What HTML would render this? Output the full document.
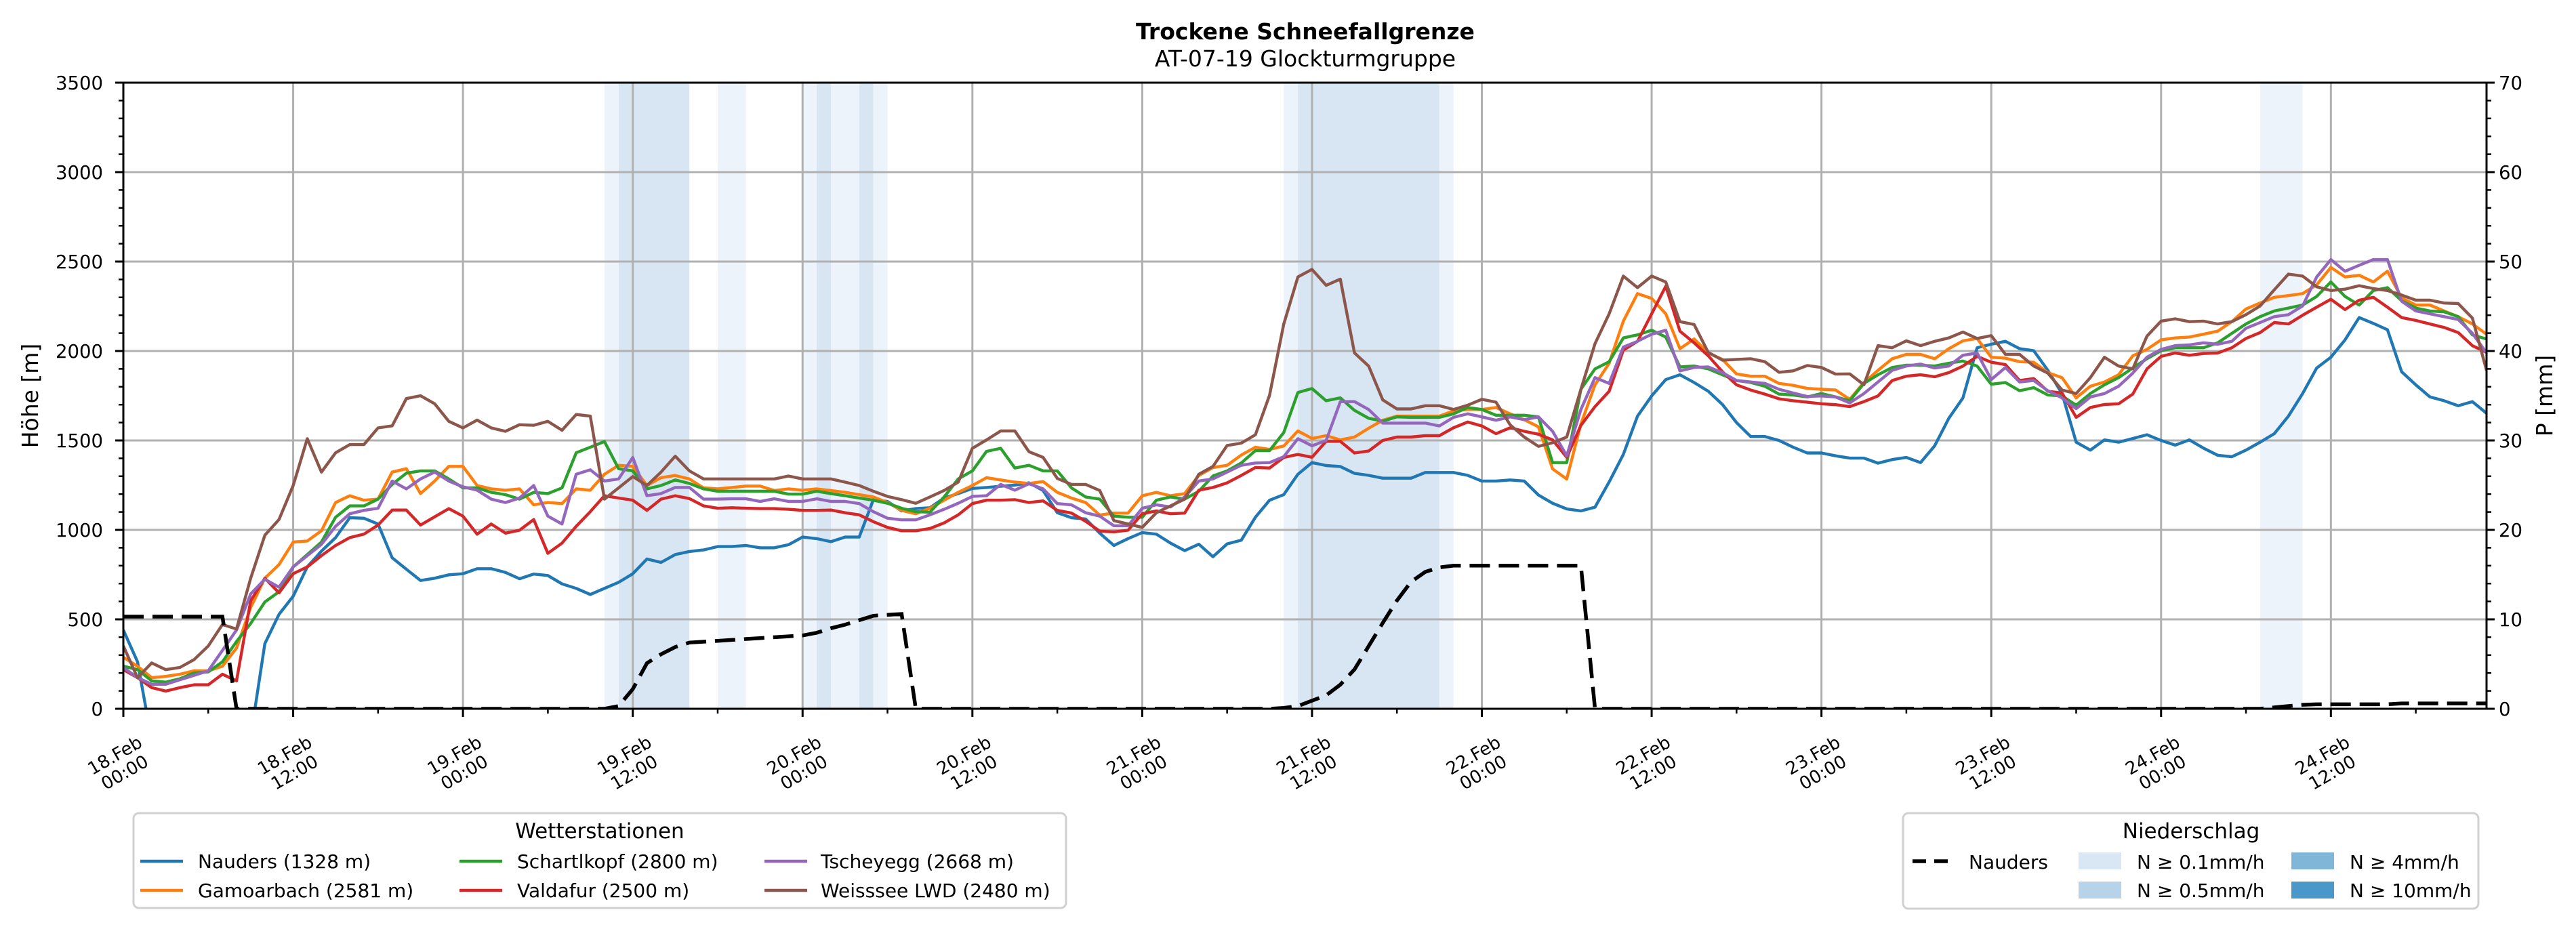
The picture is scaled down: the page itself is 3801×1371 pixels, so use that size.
<!DOCTYPE html>
<html><head><meta charset="utf-8"><style>
html,body{margin:0;padding:0;background:#fff;}
svg{display:block;font-family:"DejaVu Sans","Liberation Sans",sans-serif;}
</style></head><body>
<svg id="chart" width="3801" height="1371" viewBox="0 0 3801 1371" xmlns="http://www.w3.org/2000/svg">
<defs><clipPath id="plotclip"><rect x="182" y="122" width="3487" height="924"/></clipPath></defs>
<text x="1926" y="58" font-size="33" font-weight="bold" text-anchor="middle">Trockene Schneefallgrenze</text>
<text x="1926" y="98" font-size="33" text-anchor="middle">AT-07-19 Glockturmgruppe</text>
<g id="bands" clip-path="url(#plotclip)"></g>
<g id="grid"></g>
<g id="series" clip-path="url(#plotclip)"></g>
<g id="axes"></g>
<text transform="translate(56,584) rotate(-90)" font-size="33" text-anchor="middle">Höhe [m]</text>
<text transform="translate(3766,584) rotate(-90)" font-size="33" text-anchor="middle">P [mm]</text>
<g>
<rect x="197" y="1200" width="1376" height="140" rx="8" fill="#fff" stroke="#d0d0d0" stroke-width="3"/>
<text x="885" y="1237" font-size="31" text-anchor="middle">Wetterstationen</text>
<g font-size="28">
<line x1="207" y1="1271" x2="270" y2="1271" stroke="#1f77b4" stroke-width="4.4"/><text x="292" y="1281">Nauders (1328 m)</text>
<line x1="207" y1="1314" x2="270" y2="1314" stroke="#ff7f0e" stroke-width="4.4"/><text x="292" y="1324">Gamoarbach (2581 m)</text>
<line x1="678" y1="1271" x2="741" y2="1271" stroke="#2ca02c" stroke-width="4.4"/><text x="763" y="1281">Schartlkopf (2800 m)</text>
<line x1="678" y1="1314" x2="741" y2="1314" stroke="#d62728" stroke-width="4.4"/><text x="763" y="1324">Valdafur (2500 m)</text>
<line x1="1128" y1="1271" x2="1191" y2="1271" stroke="#9467bd" stroke-width="4.4"/><text x="1211" y="1281">Tscheyegg (2668 m)</text>
<line x1="1128" y1="1314" x2="1191" y2="1314" stroke="#8c564b" stroke-width="4.4"/><text x="1211" y="1324">Weisssee LWD (2480 m)</text>
</g></g>
<g>
<rect x="2808" y="1200" width="849" height="141" rx="8" fill="#fff" stroke="#d0d0d0" stroke-width="3"/>
<text x="3233" y="1237" font-size="31" text-anchor="middle">Niederschlag</text>
<g font-size="28">
<line x1="2822" y1="1271" x2="2879" y2="1271" stroke="#000" stroke-width="5.5" stroke-dasharray="20,12"/><text x="2905" y="1282">Nauders</text>
<rect x="3067" y="1258" width="63" height="25" fill="#d9e7f4"/><text x="3153" y="1282">N ≥ 0.1mm/h</text>
<rect x="3067" y="1301" width="63" height="25" fill="#b7d3ea"/><text x="3153" y="1324">N ≥ 0.5mm/h</text>
<rect x="3381" y="1258" width="63" height="25" fill="#80b7d9"/><text x="3467" y="1282">N ≥ 4mm/h</text>
<rect x="3381" y="1301" width="63" height="25" fill="#4a97c9"/><text x="3467" y="1324">N ≥ 10mm/h</text>
</g></g>
</svg>
<script>
const nauders=[440,263,-175,-175,-175,-175,-175,-175,-175,-156,364,528,629,793,881,957,1068,1065,1033,844,780,717,730,749,755,783,783,762,727,753,745,698,673,639,673,707,755,837,818,862,879,888,907,
907,913,900,900,917,960,951,934,960,960,1169,1159,1106,1119,1124,1178,1203,1232,1237,1244,1250,1263,1220,1096,1068,1061,982,913,951,985,976,926,884,920,850,922,942,1071,1166,1197,1311,
1376,1360,1354,1316,1305,1289,1289,1289,1321,1321,1321,1305,1273,1273,1279,1273,1195,1149,1117,1106,1127,1268,1422,1636,1749,1840,1867,1824,1775,1701,1600,1522,1522,1500,1462,1430,1430,1414,1401,1401,1373,1393,
1405,1376,1470,1624,1738,2018,2038,2054,2013,2002,1892,1762,1490,1446,1503,1490,1511,1532,1500,1474,1503,1457,1417,1409,1446,1490,1538,1636,1762,1905,1965,2062,2187,2154,2119,1884,1811,1743,1722,1694,1717,1652];
const gamoarbach=[288,238,174,181,193,212,212,238,339,566,730,806,932,938,995,1153,1191,1166,1172,1323,1342,1203,1273,1355,1355,1248,1229,1222,1229,1140,1153,1147,1229,1222,1311,1361,1355,1248,1292,1304,1285,1235,1229,
1237,1245,1245,1220,1229,1222,1229,1220,1210,1197,1184,1153,1109,1090,1121,1166,1210,1248,1292,1279,1267,1260,1270,1210,1178,1153,1083,1094,1094,1191,1210,1191,1203,1304,1349,1361,1418,1462,1450,1469,1553,
1511,1527,1503,1519,1568,1613,1636,1636,1636,1636,1665,1673,1673,1684,1649,1616,1576,1341,1284,1592,1811,1932,2167,2321,2294,2208,2013,2067,1989,1953,1872,1859,1859,1819,1808,1791,1786,1782,1730,1824,1892,1957,
1981,1981,1957,2013,2057,2070,1965,1960,1940,1937,1879,1851,1738,1803,1827,1867,1973,2009,2062,2073,2078,2094,2111,2164,2235,2268,2300,2310,2321,2370,2467,2414,2423,2386,2446,2297,2257,2257,2224,2192,2151,2094];
const schartlkopf=[238,219,156,149,168,200,206,263,376,477,597,654,793,862,932,1071,1134,1134,1172,1254,1317,1330,1330,1285,1235,1235,1210,1197,1172,1210,1203,1235,1431,1462,1494,1342,1330,1229,1248,1279,1260,1229,1216,
1216,1216,1216,1216,1200,1200,1216,1203,1191,1178,1166,1149,1121,1102,1099,1184,1285,1330,1439,1456,1346,1361,1330,1330,1235,1184,1172,1077,1071,1071,1166,1184,1172,1216,1301,1330,1374,1443,1443,1544,1768,
1790,1722,1738,1668,1624,1608,1632,1629,1629,1629,1649,1684,1673,1641,1641,1641,1632,1376,1376,1786,1900,1940,2073,2090,2116,2078,1911,1916,1900,1867,1835,1824,1803,1759,1754,1743,1762,1743,1722,1819,1867,1908,
1921,1921,1916,1932,1944,1916,1814,1824,1778,1795,1754,1749,1697,1762,1811,1851,1905,1957,2002,2018,2018,2018,2046,2099,2151,2192,2224,2240,2257,2305,2386,2305,2257,2338,2354,2281,2240,2224,2219,2192,2090,2067];
const valdafur=[219,174,118,99,118,134,134,193,156,604,730,648,755,793,856,913,957,976,1027,1111,1111,1027,1073,1119,1077,976,1033,982,998,1058,869,926,1020,1102,1191,1178,1166,1109,1172,1191,1175,1134,1121,
1124,1121,1119,1119,1115,1109,1109,1111,1096,1084,1046,1014,995,995,1008,1039,1084,1147,1166,1166,1169,1153,1162,1109,1094,1048,993,989,998,1090,1106,1090,1094,1222,1237,1263,1304,1349,1346,1405,1422,
1406,1495,1495,1430,1441,1500,1519,1519,1527,1527,1571,1603,1581,1538,1571,1551,1535,1503,1406,1584,1689,1775,2005,2054,2208,2362,2111,2046,1973,1884,1811,1782,1759,1733,1722,1714,1705,1700,1689,1717,1749,1835,
1859,1867,1856,1879,1916,1970,1937,1924,1835,1846,1775,1765,1629,1684,1701,1705,1759,1900,1970,1989,1976,1986,1989,2018,2070,2103,2159,2151,2200,2245,2289,2232,2284,2300,2245,2187,2171,2151,2132,2103,2030,1992];
const tscheyegg=[231,174,137,137,162,187,212,326,440,642,724,680,793,856,919,1020,1090,1109,1121,1273,1229,1285,1323,1273,1241,1222,1172,1153,1178,1248,1077,1033,1311,1336,1273,1285,1405,1191,1203,1237,1237,1172,1172,
1174,1174,1159,1174,1159,1159,1174,1159,1159,1147,1102,1065,1056,1056,1084,1115,1149,1187,1191,1254,1222,1258,1229,1147,1140,1096,1077,1023,1023,1121,1140,1128,1184,1273,1285,1323,1361,1374,1376,1409,1510,
1470,1500,1717,1717,1673,1597,1597,1597,1597,1581,1629,1649,1632,1613,1632,1616,1632,1551,1414,1673,1851,1819,2022,2054,2094,2116,1889,1908,1911,1879,1835,1827,1819,1786,1765,1746,1749,1743,1710,1762,1827,1892,
1916,1927,1905,1916,1976,1989,1840,1908,1827,1835,1778,1738,1678,1743,1762,1803,1876,1965,2009,2030,2034,2046,2038,2054,2127,2159,2192,2203,2252,2414,2511,2446,2479,2511,2511,2278,2224,2208,2192,2176,2099,1989];
const weisssee=[351,174,256,219,231,275,351,471,446,730,970,1058,1248,1510,1323,1431,1477,1477,1570,1582,1734,1750,1705,1607,1570,1614,1570,1551,1588,1585,1607,1557,1645,1636,1172,1235,1298,1248,1323,1412,1330,1285,1285,
1285,1285,1285,1285,1301,1285,1285,1285,1267,1248,1216,1187,1169,1149,1184,1220,1267,1456,1503,1553,1553,1437,1405,1288,1254,1254,1220,1052,1033,1014,1096,1134,1172,1311,1355,1472,1485,1532,1753,2150,2414,
2456,2367,2402,1989,1916,1727,1676,1676,1694,1694,1673,1697,1730,1714,1587,1519,1467,1487,1519,1786,2041,2208,2419,2354,2419,2386,2164,2148,1992,1949,1953,1957,1940,1881,1889,1919,1908,1871,1872,1811,2030,2018,
2057,2030,2054,2073,2106,2070,2086,1981,1981,1916,1876,1782,1762,1851,1965,1916,1900,2083,2167,2180,2164,2167,2151,2164,2203,2252,2342,2430,2419,2359,2338,2346,2365,2349,2338,2313,2284,2284,2268,2265,2184,1892];
const precipNauders=[10.3,10.3,10.3,10.3,10.3,10.3,10.3,10.3,0,0,0,0,0,0,0,0,0,0,0,0,0,0,0,0,0,0,0,0,0,0,0,0,0,0,0,
0.3,2.2,5.1,6.1,6.9,7.4,7.5,7.6,7.7,7.8,7.9,8.0,8.1,8.2,8.5,9.0,9.4,9.9,10.4,10.5,10.6,
0,0,0,0,0,0,0,0,0,0,0,0,0,0,0,0,0,0,0,0,0,0,0,0,0,0,
0.1,0.3,0.9,1.5,2.7,4.4,7.0,9.6,12.1,14.2,15.3,15.8,16,16,16,16,16,16,16,16,16,16,
0,0,0,0,0,0,0,0,0,0,0,0,0,0,0,0,0,0,0,0,0,0,0,0,0,0,0,0,0,0,0,0,0,0,0,0,0,0,0,0,0,0,0,0,0,0,0,0,
0.15,0.3,0.45,0.5,0.5,0.5,0.5,0.5,0.5,0.6,0.6,0.6,0.6,0.6,0.6,0.6];
const bandStart=[34,35,42,48,49,50,52,53,82,83,93,151];
const bandEnd=[35,40,44,49,50,52,53,54,83,93,94,154];
const bandLevel=[1,2,1,1,2,1,2,1,1,2,1,1];
const xTickHours=[0,12,24,36,48,60,72,84,96,108,120,132,144,156];
const xTickDates=["18.Feb","18.Feb","19.Feb","19.Feb","20.Feb","20.Feb","21.Feb","21.Feb","22.Feb","22.Feb","23.Feb","23.Feb","24.Feb","24.Feb"];
const xTickTimes=["00:00","12:00","00:00","12:00","00:00","12:00","00:00","12:00","00:00","12:00","00:00","12:00","00:00","12:00"];
const yTicks=[0,500,1000,1500,2000,2500,3000,3500];
const y2Ticks=[0,10,20,30,40,50,60,70];

const NS="http://www.w3.org/2000/svg";
const X0=182,X1=3669,YB=1046,YT=122,HMAX=167;
function xs(h){return X0+h*(X1-X0)/HMAX;}
function ys(v){return YB-v*(YB-YT)/3500;}
function yp(mm){return YB-mm*(YB-YT)/70;}
function mk(tag,attrs,parent){const e=document.createElementNS(NS,tag);for(const k in attrs)e.setAttribute(k,attrs[k]);parent.appendChild(e);return e;}

const gB=document.getElementById('bands');


bandStart.forEach((s,i)=>{
  const r=mk('rect',{x:xs(s),y:YT,width:xs(bandEnd[i])-xs(s),height:YB-YT,fill:bandLevel[i]===2?'#d8e6f3':'#edf3fa'},gB);
  
  
});

const gG=document.getElementById('grid');


xTickHours.forEach(h=>{mk('line',{x1:xs(h),x2:xs(h),y1:YT,y2:YB,stroke:'#b0b0b0','stroke-width':3},gG);});
yTicks.forEach(v=>{mk('line',{x1:X0,x2:X1,y1:ys(v),y2:ys(v),stroke:'#b0b0b0','stroke-width':3},gG);});

const gS=document.getElementById('series');
const series=[[nauders,'#1f77b4','line-nauders'],[gamoarbach,'#ff7f0e','line-gamoarbach'],[schartlkopf,'#2ca02c','line-schartlkopf'],[valdafur,'#d62728','line-valdafur'],[tscheyegg,'#9467bd','line-tscheyegg'],[weisssee,'#8c564b','line-weisssee']];
series.forEach(s=>{
  const d=s[0].map((v,i)=>(i?'L':'M')+xs(i).toFixed(1)+','+ys(v).toFixed(1)).join('');
  const p=mk('path',{d:d,fill:'none',stroke:s[1],'stroke-width':4.4,'stroke-linejoin':'round'},gS);
  
  
});
const dp=precipNauders.map((v,i)=>(i?'L':'M')+xs(i).toFixed(1)+','+yp(v).toFixed(1)).join('');
const pp=mk('path',{d:dp,fill:'none',stroke:'#000','stroke-width':5.5,'stroke-dasharray':'30,13'},gS);



const gA=document.getElementById('axes');


mk('rect',{x:X0,y:YT,width:X1-X0,height:YB-YT,fill:'none',stroke:'#000','stroke-width':3},gA);
for(let h=0;h<=HMAX;h+=6){const maj=h%12===0;mk('line',{x1:xs(h),x2:xs(h),y1:YB,y2:YB+(maj?12:7),stroke:'#000','stroke-width':maj?3:2.5},gA);}
for(let v=0;v<=3500;v+=100){const maj=v%500===0;
  mk('line',{x1:X0,x2:X0-(maj?12:7),y1:ys(v),y2:ys(v),stroke:'#000','stroke-width':maj?3:2.5},gA);
  mk('line',{x1:X1,x2:X1+(maj?12:7),y1:ys(v),y2:ys(v),stroke:'#000','stroke-width':maj?3:2.5},gA);}
yTicks.forEach(v=>{const t=mk('text',{x:152,y:ys(v)+10,'font-size':27.5,'text-anchor':'end'},gA);t.textContent=v;
  
  });
y2Ticks.forEach(v=>{const t=mk('text',{x:3687,y:yp(v)+10,'font-size':27.5},gA);t.textContent=v;
  
  });
xTickHours.forEach((h,i)=>{
  const g=mk('g',{transform:'translate('+(xs(h)-6)+',1126) rotate(-30)','font-size':26,'text-anchor':'middle'},gA);
  
  
  const a=mk('text',{x:0,y:-4},g);a.textContent=xTickDates[i];
  const b=mk('text',{x:0,y:25},g);b.textContent=xTickTimes[i];
});
</script>
</body></html>
